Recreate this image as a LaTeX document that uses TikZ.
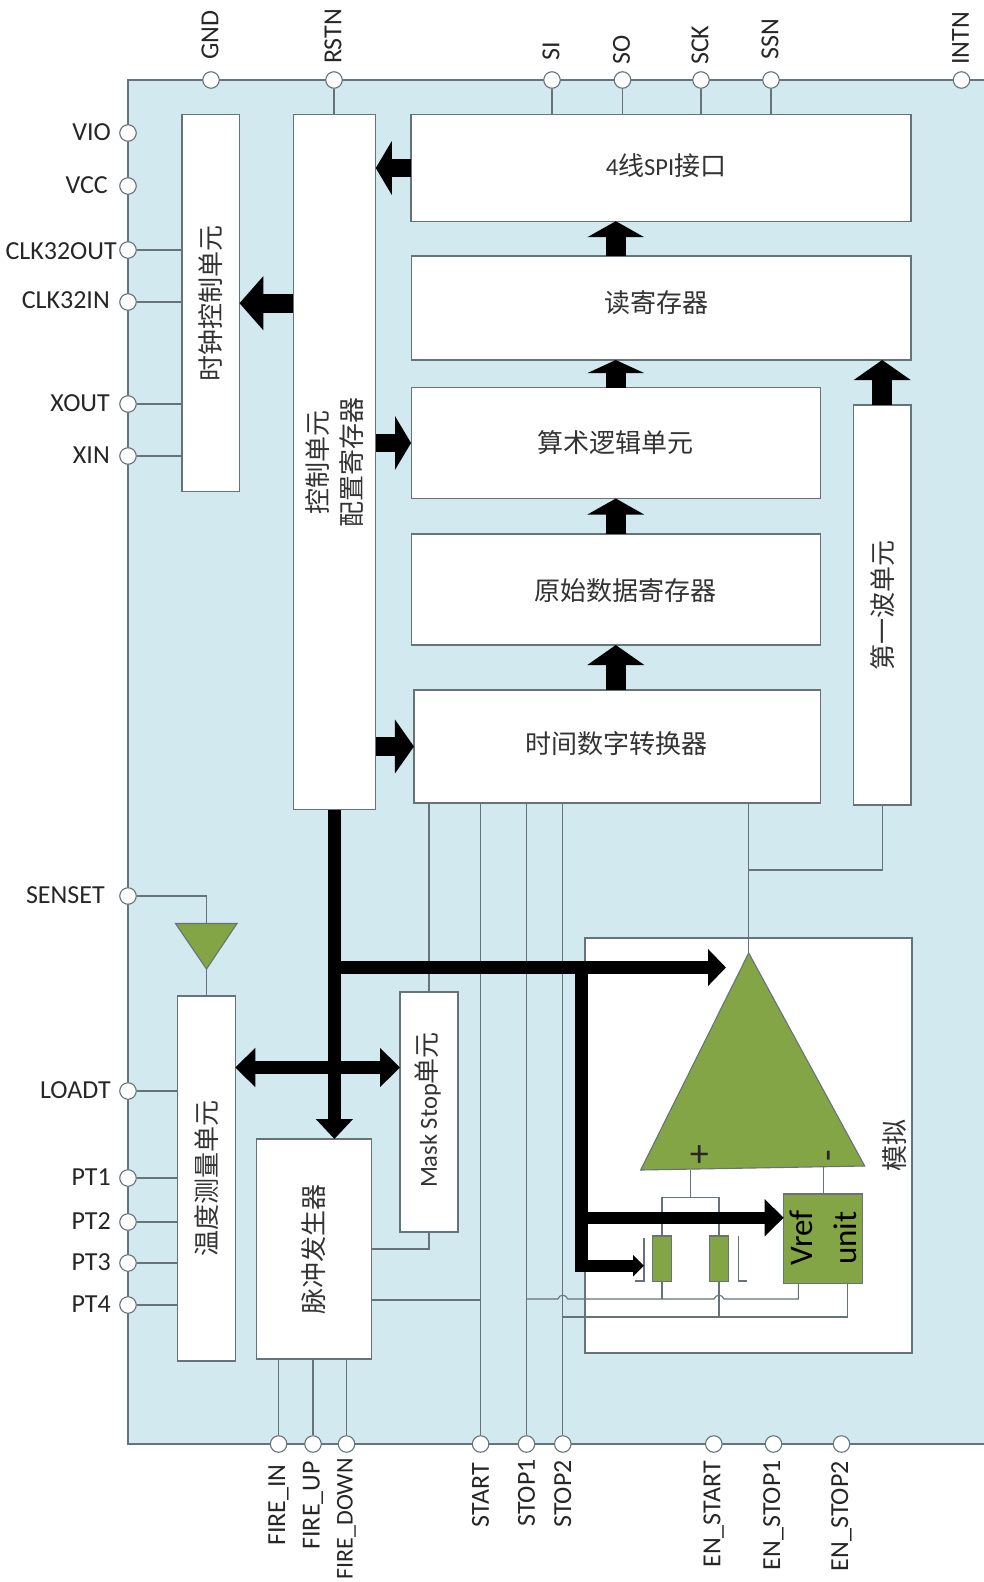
\documentclass[tikz,border=0pt]{standalone}
\usepackage{fontspec}
\setmainfont{Carlito}
\newfontfamily\zhfont{Noto Sans CJK SC}
\usetikzlibrary{arrows.meta}
\definecolor{panelblue}{HTML}{D2E9EF}
\definecolor{linegrey}{HTML}{667378}
\definecolor{ampgreen}{HTML}{84A546}
\tikzset{
	pinlabel/.style={font=\fontsize{26}{30}\selectfont, inner sep=0pt, text=black!85},
	blocktext/.style={font=\fontsize{26}{30}\zhfont\selectfont, inner sep=0pt, text=black!80, rotate=#1},
	blocktext/.default=0,
	blockbox/.style={draw=linegrey, fill=white, line width=1.1pt, inner sep=0pt, outer sep=0pt},
	pinball/.style={circle, draw=linegrey, fill=white, line width=1.1pt, minimum size=16.5pt, inner sep=0pt},
	thinline/.style={draw=linegrey, line width=1.1pt},
	fatarrow/.style={line width=18.7pt, -{Triangle[length=#1,width=53pt]}},
	fatup/.style={line width=19.5pt, -{Triangle[length=#1,width=56pt]}},
	busline/.style={line width=12.3pt},
	busarrow/.style={busline, -{Triangle[length=#1,width=36pt]}},
	gatearrow/.style={busline, -{Triangle[length=11pt,width=21pt]}},
	busboth/.style={busline, {Triangle[length=20pt,width=38pt]}-{Triangle[length=20pt,width=38pt]}},
}
\newcommand{\latinpart}[1]{{\fontsize{24.5}{30}\rmfamily\selectfont #1}}
\begin{document}
\begin{tikzpicture}[x=1pt,y=-1pt]
		\useasboundingbox (0,0) rectangle (984,1582);
		% chip outline, open on the right
		\draw[draw=linegrey, fill=panelblue, line width=1.4pt] (984,80) -- (128,80) -- (128,1444) -- (984,1444);
		\node[blockbox, minimum width=327pt, minimum height=415pt] (analog) at (748.5,1145.5) {};
		% pins
		\foreach \pname/\ptext/\px/\ly in {GND/GND/211/60, RSTN/RSTN/334/64, SI/SI/552/61, SO/SO/622.5/65, SCK/SCK/701/65, SSN/SSN/771/60, INTN/INTN/961.5/65}
		{
			\node[pinball] (pin\pname) at (\px,80) {};
			\node[pinlabel, rotate=90, anchor=west] (lab\pname) at (\px-1,\ly) {\ptext};
		}
		\foreach \pname/\ptext/\py/\lx/\ly in {VIO/VIO/133/111/132, VCC/VCC/186/108/185, CLKO/CLK32OUT/250/117/251, CLKI/CLK32IN/302/110/300, XOUT/XOUT/404/110/403, XIN/XIN/456/110/455, SENSET/SENSET/896/105/895, LOADT/LOADT/1091/111/1090, PTa/PT1/1178/111/1177, PTb/PT2/1222/111/1221, PTc/PT3/1263/111/1262, PTd/PT4/1305/111/1304}
		{
			\node[pinball] (pin\pname) at (128,\py) {};
			\node[pinlabel, anchor=east] (lab\pname) at (\lx,\ly) {\ptext};
		}
		\foreach \pname/\ptext/\px/\ly in {FIREIN/FIRE\_IN/278.6/1464, FIREUP/FIRE\_UP/313/1461, FIREDN/{\fontsize{24}{30}\selectfont FIRE\_DOWN}/346.5/1458, START/START/480.6/1463, STOPa/STOP1/526.5/1459, STOPb/STOP2/562.8/1460, ENSTART/EN\_START/713.8/1461, ENSTOPa/EN\_STOP1/773.5/1460, ENSTOPb/EN\_STOP2/841.5/1461}
		{
			\node[pinball] (pin\pname) at (\px,1444) {};
			\node[pinlabel, rotate=90, anchor=east] (lab\pname) at (\px,\ly) {\ptext};
		}
		% blocks
		\foreach \bname/\bx/\by/\bw/\bh in {clk/210.7/303.2/57.5/377, ctrl/334.4/462.2/82.7/694.6, spi/661/168/500/106.3, rdreg/661.2/308/499.5/104, alu/615.8/443/409.5/111, raw/615.8/589.5/409.5/111, tdc/617.2/746.5/406.5/113, wave/882.2/605/57.5/400, temp/206.3/1178.5/57.9/365, pulse/313.8/1249/114.5/220, mask/429/1112/58/240}
		{
			\node[blockbox, minimum width=\bw pt, minimum height=\bh pt] (\bname) at (\bx,\by) {};
		}
		\node[blocktext=90] (clktext) at (clk) {时钟控制单元};
		\node[blocktext=90, align=center] (ctrltext) at (ctrl) {控制单元\\[4pt]配置寄存器};
		\node[blocktext] (spitext) at (666,166) {\latinpart{4}线\latinpart{SPI}接口};
		\node[blocktext] (rdtext) at (656,303) {读寄存器};
		\node[blocktext] (alutext) at (alu) {算术逻辑单元};
		\node[blocktext] (rawtext) at (625,591) {原始数据寄存器};
		\node[blocktext] (tdctext) at (616.5,744) {时间数字转换器};
		\node[blocktext=90] (wavetext) at (wave) {第一波单元};
		\node[blocktext=90] (temptext) at (temp) {温度测量单元};
		\node[blocktext=90] (pulsetext) at (pulse) {脉冲发生器};
		\node[blocktext=90] (masktext) at (428,1110) {\latinpart{Mask Stop}单元};
		\node[blocktext=90] (analogtext) at (895,1145) {模拟};
		% sense amplifier and the parts below it
		\coordinate (senseTop) at (206.5,923.5);
		\coordinate (senseTip) at (206.5,969);
		\draw[thinline, fill=ampgreen] (175.5,923.5) -- (237,923.5) -- (senseTip) -- cycle;
		\coordinate (ampTip) at (748.7,953);
		\coordinate (ampPlus) at (690.7,1169.5);
		\coordinate (ampMinus) at (823.3,1166.5);
		\draw[thinline, fill=ampgreen] (ampTip) -- (864.7,1166) -- (640.7,1170) -- cycle;
		\node[pinlabel, font=\fontsize{38}{40}\selectfont] (plustext) at (699.3,1156) {+};
		\node[pinlabel, font=\fontsize{38}{40}\selectfont, rotate=90] (minustext) at (833,1156) {-};
		\node[blockbox, fill=ampgreen, minimum width=79pt, minimum height=89.7pt] (vref) at (823.2,1238.8) {};
		\node[font=\fontsize{33}{36}\selectfont, rotate=90, inner sep=0pt] (vreftext) at (801,1238) {Vref};
		\node[font=\fontsize{33}{36}\selectfont, rotate=90, inner sep=0pt] (unittext) at (845,1238) {unit};
		\node[blockbox, fill=ampgreen, minimum width=19.4pt, minimum height=45.7pt] (resa) at (662,1258.8) {};
		\node[blockbox, fill=ampgreen, minimum width=19.4pt, minimum height=45.7pt] (resb) at (719,1258.8) {};
		\draw[thinline] (644,1238) -- (644,1281) -- (635,1281);
		\draw[thinline] (738.3,1236) -- (738.3,1281) -- (746.7,1281);
		% thin connectors
		\foreach \pname in {CLKO,CLKI,XOUT,XIN} { \draw[thinline] (pin\pname) -- (pin\pname -| clk.west); }
		\foreach \pname in {LOADT,PTa,PTb,PTc,PTd} { \draw[thinline] (pin\pname) -- (pin\pname -| temp.west); }
		\foreach \pname in {SI,SO,SCK,SSN} { \draw[thinline] (pin\pname) -- (pin\pname |- spi.north); }
		\foreach \pname in {FIREIN,FIREUP,FIREDN} { \draw[thinline] (pin\pname) -- (pin\pname |- pulse.south); }
		\foreach \pname in {START,STOPa,STOPb} { \draw[thinline] (pin\pname) -- (pin\pname |- tdc.south); }
		\draw[thinline] (pinRSTN) -- (pinRSTN |- ctrl.north);
		\draw[thinline] (pinSENSET) -| (senseTop);
		\draw[thinline] (senseTip) -- (senseTip |- temp.north);
		\draw[thinline] (429,803) -- (mask.north);
		\draw[thinline] (mask.south) |- (pulse.east |- 0,1249);
		\draw[thinline] (pulse.east |- 0,1300) -- (pinSTART |- 0,1300);
		\draw[thinline] (ampTip) -- (ampTip |- tdc.south);
		\draw[thinline] (wave.south) |- (ampTip |- 0,870);
		\coordinate (resaLow) at (662,1299);
		\draw[thinline] (ampPlus) -- (690.7,1197.3);
		\draw[thinline] (resa.north) -- (662,1197.3) -- (719,1197.3) -- (resb.north);
		\draw[thinline] (ampMinus) -- (ampMinus |- vref.north);
		\draw[thinline] (resa.south) -- (resaLow);
		\draw[thinline] (resb.south) -- (719,1317);
		\draw[thinline] (pinSTOPa |- resaLow) -- (557.8,1299) .. controls (559.5,1294) and (566,1294) .. (567.8,1299)
			-- (714,1299) .. controls (715.7,1294) and (722.3,1294) .. (724,1299) -- (798.3,1299) -- (798.3,1283.7);
		\draw[thinline] (pinSTOPb |- 0,1317) -- (847.3,1317) -- (847.3,1283.7);
		% fat data arrows
		\draw[fatarrow=16pt] (spi.west) -- (spi.west -| ctrl.east);
		\draw[fatarrow=24pt] (ctrl.west |- clk.east) -- (clk.east);
		\draw[fatarrow=16pt] (ctrl.east |- alu.west) -- (alu.west);
		\draw[fatarrow=19pt] (ctrl.east |- tdc.west) -- (tdc.west);
		\draw[fatup=16pt] (alu.center |- rdreg.north) -- (alu.center |- spi.south);
		\draw[fatup=13pt] (alu.north) -- (alu.center |- rdreg.south);
		\draw[fatup=16pt] (alu.center |- raw.north) -- (alu.south);
		\draw[fatup=20pt] (alu.center |- tdc.north) -- (alu.center |- raw.south);
		\draw[fatup=20pt] (wave.north) -- (wave.north |- rdreg.south);
		% control bus
		\coordinate (busTee) at (ctrl.south |- 0,967.5);
		\coordinate (busMid) at (ctrl.south |- 0,1067.5);
		\coordinate (busDrop) at (581.5,967.5);
		\coordinate (ampBus) at (726,967.5);
		\coordinate (busFoot) at (581.5,1272);
		\draw[busarrow=20pt] (ctrl.south) -- (ctrl.south |- pulse.north);
		\draw[busarrow=18pt] (busTee) -- (ampBus);
		\draw[busline] (busDrop) -- (busFoot);
		\draw[busarrow=19pt] (busDrop |- 0,1217.7) -- (vref.west |- 0,1217.7);
		\draw[gatearrow] (busDrop |- 0,1265.7) -- (644,1265.7);
		\draw[busboth] (temp.east |- busMid) -- (mask.west |- busMid);
	\end{tikzpicture}
\end{document}
